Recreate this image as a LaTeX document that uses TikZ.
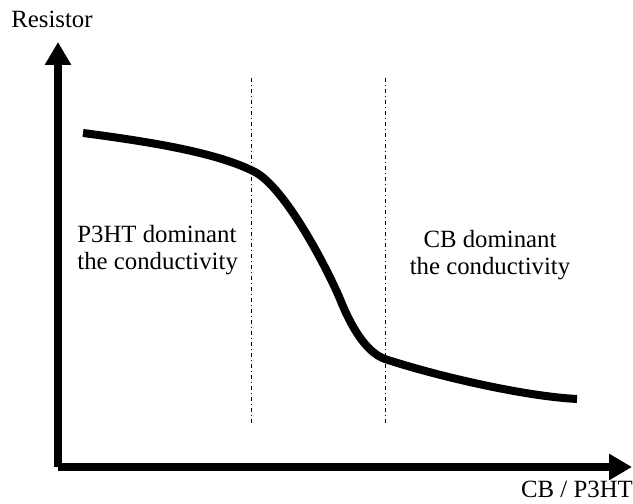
\documentclass[tikz,border=0pt]{standalone}
\usepackage{fontspec}
\setmainfont{Liberation Serif}
\usetikzlibrary{arrows.meta}

\begin{document}
\begin{tikzpicture}[x=0.5pt,y=0.5pt,
    font=\fontsize{12.4}{13.6}\selectfont,
    axis/.style={line width=4pt, -{Triangle[width=12.5pt,length=11.5pt]}},
    border/.style={line width=0.5pt, dash pattern=on 2pt off 1.5pt on 0.5pt off 1.5pt},
    curve/.style={line width=4pt}]
  \useasboundingbox (0,0) rectangle (633,504);

  \coordinate (o) at (58,37);
  \coordinate (ytip) at (58,462);
  \coordinate (xtip) at (632,37);

  % axes
  \draw[axis] (o) -- (ytip);
  \draw[axis] (o) -- (xtip);
  \node[anchor=base] (ylabel) at (52,476) {Resistor};
  \node[anchor=base] (xlabel) at (577,6) {CB / P3HT};

  % region borders
  \coordinate (b1top) at (251,426);
  \coordinate (b1bot) at (251,81);
  \coordinate (b2top) at (385,426);
  \coordinate (b2bot) at (385,81);
  \draw[border] (b1top) -- (b1bot);
  \draw[border] (b2top) -- (b2bot);

  % resistance curve
  \coordinate (c0) at (83,371);
  \coordinate (c1) at (255,332);
  \coordinate (c2) at (340,205);
  \coordinate (c3) at (385,145);
  \coordinate (c4) at (577,105);
  \draw[curve] (c0) .. controls (160,361) and (220,350) .. (c1)
    .. controls (285,316) and (326,238) .. (c2)
    .. controls (350,180) and (365,152) .. (c3)
    .. controls (430,130) and (520,108) .. (c4);

  % region labels
  \node[anchor=base west, align=left, inner sep=0pt] (left) at (77,234)
    {P3HT dominant\\the conductivity};
  \node[anchor=base, align=center, inner sep=0pt] (right) at (490,229)
    {CB dominant\\the conductivity};
\end{tikzpicture}
\end{document}
